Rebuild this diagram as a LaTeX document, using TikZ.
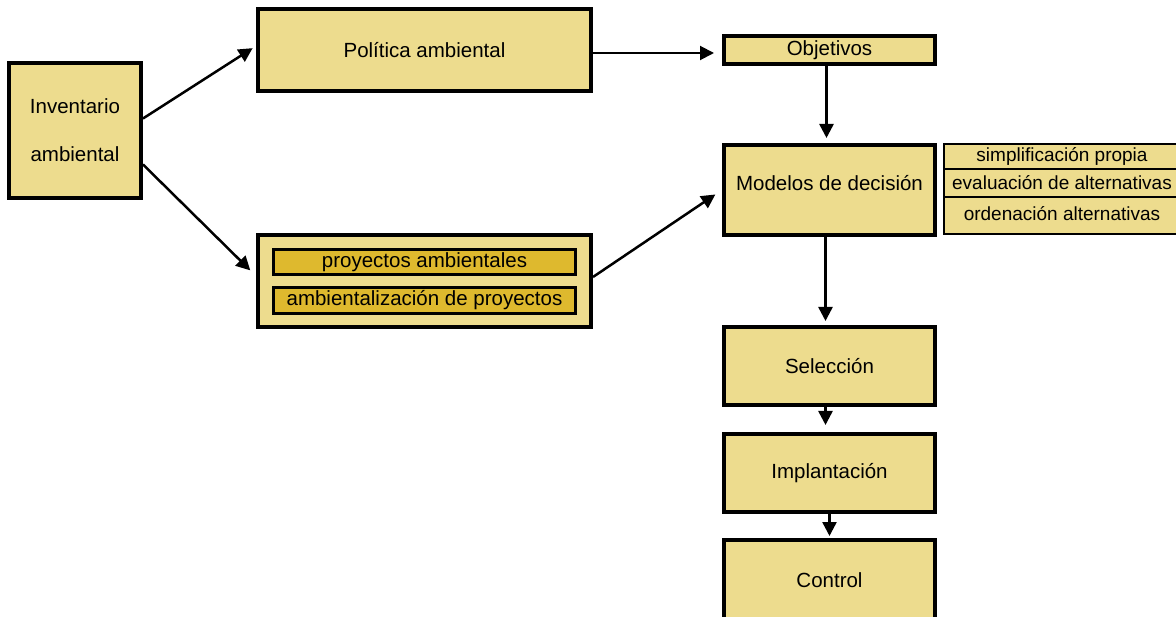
\documentclass[tikz,border=0pt]{standalone}
\usepackage{fontspec}
\setmainfont{Liberation Sans}
\usetikzlibrary{arrows.meta}
\definecolor{boxfill}{RGB}{237,220,142}
\definecolor{darkfill}{RGB}{222,185,46}
\tikzset{
  box/.style={draw,line width=4pt,fill=boxfill,inner sep=0pt,font=\fontsize{20.5}{24}\selectfont},
  inner/.style={draw,line width=3pt,fill=darkfill,inner sep=0pt,minimum width=302pt,font=\fontsize{20.5}{24}\selectfont},
  item/.style={draw,line width=2pt,fill=boxfill,inner sep=0pt,minimum width=236pt,font=\fontsize{19}{22}\selectfont},
  arr/.style={-{Triangle[length=14pt,width=14pt]},line width=2.5pt}
}
\begin{document}
\begin{tikzpicture}[x=1pt,y=-1pt]
\useasboundingbox (0,0) rectangle (1176,617);
\node[box,minimum width=132pt,minimum height=135pt,align=center,font=\fontsize{20.5}{48}\selectfont] (inv) at (75,130.5) {Inventario\\ambiental};
\node[box,minimum width=333pt,minimum height=82pt] (pol) at (424.5,50) {Política ambiental};
\node[box,minimum width=333pt,minimum height=92pt] (proj) at (424.5,281) {};
\node[inner,minimum height=25pt] (pa) at (424.5,262) {proyectos ambientales};
\node[inner,minimum height=26pt] (ap) at (424.5,300.5) {ambientalización de proyectos};
\node[box,minimum width=211pt,minimum height=28pt] (obj) at (829.5,50) {Objetivos};
\node[box,minimum width=211pt,minimum height=90pt] (mod) at (829.5,190) {\raisebox{14pt}{Modelos de decisión}};
\node[item,minimum height=25pt] (simp) at (1062,156.5) {simplificación propia};
\node[item,minimum height=28pt] (eval) at (1062,183) {evaluación de alternativas};
\node[item,minimum height=37pt] (orde) at (1062,215.5) {\raisebox{4pt}{ordenación alternativas}};
\node[box,minimum width=211pt,minimum height=78pt] (sel) at (829.5,366) {Selección};
\node[box,minimum width=211pt,minimum height=78pt] (imp) at (829.5,473) {Implantación};
\node[box,minimum width=211pt,minimum height=80pt] (ctl) at (829.5,580) {Control};
\draw[arr,shorten >=4pt] ([yshift=12pt]inv.east) -- ([yshift=4pt]pol.west);
\draw[arr,shorten >=8pt] ([yshift=-34pt]inv.east) -- ([yshift=5pt]proj.west);
\draw[arr,line width=2pt,shorten >=8pt] ([yshift=-3pt]pol.east) -- ([yshift=-3pt]obj.west);
\draw[arr,shorten >=5pt] ([xshift=-3pt]obj.south) -- ([xshift=-3pt]mod.north);
\draw[arr,shorten >=8pt] ([yshift=4pt]proj.east) -- (mod.west);
\draw[arr,shorten >=4pt] ([xshift=-4pt]mod.south) -- ([xshift=-4pt]sel.north);
\draw[arr,shorten >=7pt] ([xshift=-4pt]sel.south) -- ([xshift=-4pt]imp.north);
\draw[arr,shorten >=2pt] (imp.south) -- (ctl.north);
\end{tikzpicture}
\end{document}
